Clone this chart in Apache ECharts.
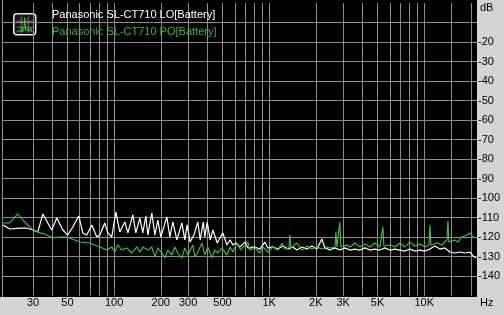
<!DOCTYPE html>
<html><head><meta charset="utf-8">
<script src="https://cdn.jsdelivr.net/npm/echarts@6/dist/echarts.min.js"></script>
<style>html,body{margin:0;padding:0;background:#d4d4d4;}#c{width:504px;height:315px;}</style>
</head><body><div id="c"></div>
<script>
const nameLO = 'Panasonic SL-CT710 LO[Battery]';
const namePO = 'Panasonic SL-CT710 PO[Battery]';

const xMinHz = 19.2, xMaxHz = 21900;
const gridFreqs = [30,40,50,60,70,80,90,100,200,300,400,500,600,700,800,900,1000,2000,3000,4000,5000,6000,7000,8000,9000,10000,15000,20000];
const labelFreqs = [30,50,100,200,300,500,1000,2000,3000,5000,10000];
const labelTexts = ['30','50','100','200','300','500','1K','2K','3K','5K','10K'];
const yGrid = [-140,-130,-120,-110,-100,-90,-80,-70,-60,-50,-40,-30,-20,-10];
const yLabels = [-140,-130,-120,-110,-100,-90,-80,-70,-60,-50,-40,-30,-20];

const loFreq = [19.2,21.2,24.6,27.3,29.9,32.2,34.7,39.6,42.7,46.7,50.3,54.1,59.2,62.8,66.6,71.8,77.3,80.9,87.0,91.1,96.6,102.6,108.8,117.2,122.6,132.0,138.1,146.5,153.1,160.2,165.0,175.1,183.1,191.4,200.1,218.8,228.8,239.2,253.9,273.4,285.8,295.5,309.2,326.8,346.7,359.0,375.5,384.8,398.4,416.8,433.5,462.6,502.6,533.4,560.6,583.3,610.0,649,698,729,751,809,871,938,981,1056,1138,1226,1320,1422,1509,1626,1751,1886,2031,2188,2288,2464,2654,2858,3079,3316,3572,3847,4144,4464,4808,5179,5578,6008,6471,6970,7508,8087,8710,9382,10105,10885,11722,12627,13602,14655,15783,16997,18307,19718,20617,21555];
const loDb = [-113.8,-115.9,-115.4,-115.4,-116.4,-117.4,-108.2,-116.4,-110.3,-116.4,-119.0,-114.9,-109.2,-117.9,-119.0,-113.8,-120.0,-119.0,-112.8,-117.9,-120.0,-107.2,-117.4,-112.3,-117.9,-108.7,-117.9,-110.3,-117.9,-109.2,-119.0,-107.7,-119.0,-111.3,-120.0,-109.7,-120.0,-112.3,-121.5,-112.8,-121.5,-113.8,-122.6,-119.0,-112.3,-121.5,-112.3,-120.0,-112.3,-121.5,-116.4,-123.1,-117.9,-124.1,-121.5,-124.1,-123.1,-125.1,-122.6,-125.6,-125.6,-125.1,-126.2,-122.6,-125.6,-125.1,-126.2,-124.6,-126.2,-125.1,-126.7,-125.1,-126.2,-124.6,-126.2,-121.0,-125.6,-126.7,-125.6,-126.7,-125.6,-126.7,-126.2,-126.7,-125.6,-126.7,-126.2,-126.7,-125.6,-126.7,-126.2,-126.7,-127.2,-126.2,-127.2,-126.7,-127.2,-126.2,-124.6,-126.2,-125.6,-127.7,-128.2,-127.7,-128.2,-127.7,-129.7,-130.8];

const poFreq = [19.2,21.2,23.9,26.5,29.9,33.2,35.7,40.2,44.6,49.5,55.8,60.1,69.7,75.1,80.9,89.7,96.6,101.0,105.7,112.1,120.8,130.1,140.1,146.5,153.1,165.0,175.1,183.1,191.4,203.1,212.4,222.1,235.7,246.4,257.6,273.4,285.8,298.9,321.9,331.6,346.7,368.6,384.8,402.3,426.9,446.4,466.7,495.3,533.4,560.6,583.3,619.0,656.9,698,729,751,809,871,911,981,1056,1138,1208,1263,1340,1360,1380,1509,1626,1751,1886,2031,2188,2357,2464,2654,2694,2735,2817,2858,2901,3171,3316,3572,3847,4144,4464,4808,5179,5334,5414,5495,5578,6008,6471,6970,7508,8087,8710,9382,10105,10723,10885,11045,12079,13010,14014,14223,14437,15783,16500,17512,18862,19718,20617,21555];
const poDb = [-112.8,-112.8,-108.2,-112.3,-116.4,-117.9,-118.5,-120.5,-120.0,-120.0,-121.5,-122.6,-123.1,-124.1,-125.1,-126.7,-125.1,-127.7,-124.1,-126.7,-125.6,-128.2,-125.1,-127.7,-125.1,-126.7,-125.1,-130.3,-125.6,-128.2,-130.8,-126.7,-129.2,-125.1,-128.2,-130.8,-125.6,-129.2,-124.1,-130.3,-127.7,-123.1,-129.2,-125.1,-130.8,-126.7,-128.2,-125.6,-129.2,-125.1,-127.7,-123.1,-126.7,-124.1,-122.6,-126.7,-125.6,-128.2,-125.1,-127.7,-125.1,-126.7,-123.1,-126.2,-125.6,-119.0,-125.6,-123.1,-126.7,-124.6,-126.2,-125.1,-126.2,-125.1,-125.6,-125.1,-117.4,-125.1,-125.1,-112.3,-125.1,-124.1,-125.1,-123.1,-125.1,-123.6,-125.1,-123.1,-125.1,-125.1,-114.9,-124.6,-124.6,-124.1,-125.1,-123.1,-125.1,-122.6,-124.6,-123.6,-125.1,-124.1,-113.8,-124.1,-123.1,-124.1,-121.5,-111.8,-122.6,-121.5,-122.6,-120.0,-119.0,-117.9,-120.0,-120.5];

const L = Math.log10;
const loData = loFreq.map((f, i) => [L(f), loDb[i]]);
const poData = poFreq.map((f, i) => [L(f), poDb[i]]);

const chart = echarts.init(document.getElementById('c'), null, {renderer: 'canvas'});
const gridCol = '#8c8c8c';
const font = 'Liberation Sans, Arial, sans-serif';

const option = {
  backgroundColor: '#d4d4d4',
  animation: false,
  grid: {left: 3, right: 27, top: 3, bottom: 19.5},
  xAxis: {
    type: 'value', min: L(xMinHz), max: L(xMaxHz),
    axisLine: {show: false},
    axisTick: {show: false, customValues: gridFreqs.map(L)},
    splitLine: {show: true, lineStyle: {color: gridCol, width: 1}},
    axisLabel: {
      customValues: labelFreqs.map(L), color: '#000', fontSize: 11, fontFamily: font, margin: 2,
      formatter: function (v) {
        let best = 0, bd = 1e9;
        labelFreqs.forEach((f, i) => { const d = Math.abs(L(f) - v); if (d < bd) { bd = d; best = i; } });
        return labelTexts[best];
      }
    }
  },
  yAxis: {
    type: 'value', position: 'right', min: -150, max: 0, interval: 10,
    axisLine: {show: false},
    axisTick: {show: false, customValues: yGrid},
    splitLine: {show: true, lineStyle: {color: gridCol, width: 1}},
    axisLabel: {customValues: yLabels, color: '#000', fontSize: 11, fontFamily: font, margin: 1, align: 'left'}
  },
  legend: {
    orient: 'vertical', left: 42, top: 3, itemGap: 2.5, itemWidth: 0, itemHeight: 0, icon: 'rect',
    selectedMode: false,
    textStyle: {fontSize: 11, fontFamily: font, lineHeight: 14},
    data: [{name: nameLO, textStyle: {color: '#ffffff'}}, {name: namePO, textStyle: {color: '#33bb33'}}]
  },
  graphic: [
    {type: 'rect', z: -10, silent: true, shape: {x: 0, y: 0, width: 477, height: 297}, style: {fill: '#000000'}},
    {type: 'line', z: -5, silent: true, shape: {x1: 2.5, y1: 0, x2: 2.5, y2: 297}, style: {stroke: gridCol, lineWidth: 1}},
    {type: 'text', left: 480, top: 2, style: {text: 'dB', font: '11px ' + font, fill: '#000'}},
    {type: 'text', left: 480, top: 297, style: {text: 'Hz', font: '11px ' + font, fill: '#000'}},
    {type: 'text', left: 449, top: 56, style: {text: '1', font: '8px ' + font, fill: '#3a3a3a'}},
    {type: 'group', left: 13, top: 13, children: [
      {type: 'rect', shape: {x: 0, y: 0, width: 22, height: 21, r: 3}, style: {fill: '#151515', stroke: '#e6e6e6', lineWidth: 1.5}},
      {type: 'line', shape: {x1: 7.5, y1: 3, x2: 7.5, y2: 19}, style: {stroke: '#777', lineWidth: 1}},
      {type: 'line', shape: {x1: 14.5, y1: 3, x2: 14.5, y2: 19}, style: {stroke: '#777', lineWidth: 1}},
      {type: 'line', shape: {x1: 3, y1: 7.5, x2: 20, y2: 7.5}, style: {stroke: '#777', lineWidth: 1}},
      {type: 'line', shape: {x1: 3, y1: 13.5, x2: 20, y2: 13.5}, style: {stroke: '#777', lineWidth: 1}},
      {type: 'polyline', shape: {points: [[3,18],[5,17],[7,18],[8,14],[9,18],[10,16],[11,4],[12,17],[14,15],[15,18],[17,14],[18,18],[20,18]]}, style: {stroke: '#33cc33', lineWidth: 1, fill: null}}
    ]}
  ],
  series: [
    {name: nameLO, type: 'line', data: loData, showSymbol: false, symbol: 'none', lineStyle: {color: '#ffffff', width: 1.2}, itemStyle: {color: '#ffffff'}, z: 3},
    {name: namePO, type: 'line', data: poData, showSymbol: false, symbol: 'none', lineStyle: {color: '#3cc83c', width: 1.1}, itemStyle: {color: '#3cc83c'}, z: 4}
  ]
};
chart.setOption(option);
</script>
</body></html>
